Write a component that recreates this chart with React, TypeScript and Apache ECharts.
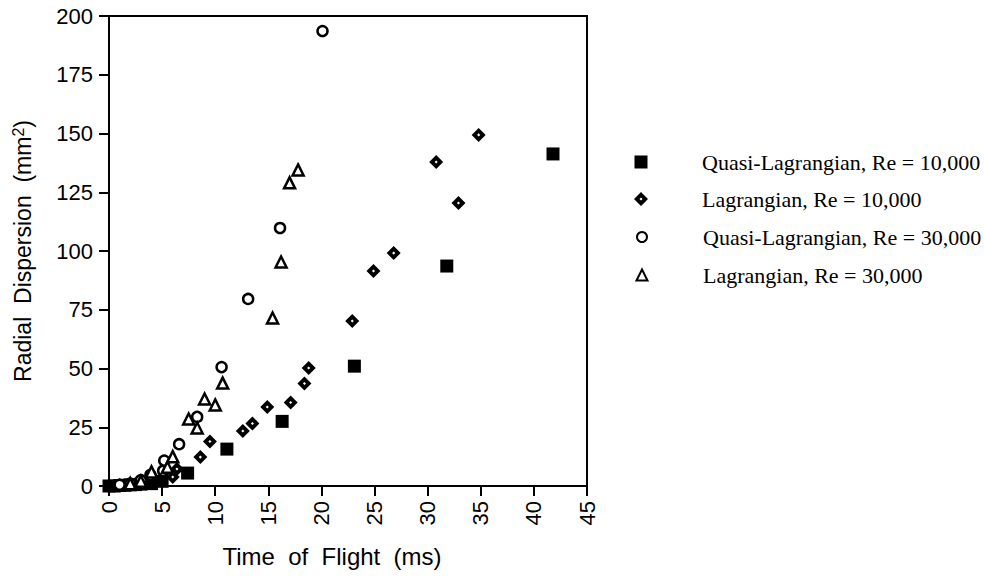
import React, { useEffect, useRef } from "react";
import * as echarts from "echarts";

const seriesNames = [
  "Quasi-Lagrangian, Re = 10,000",
  "Lagrangian, Re = 10,000",
  "Quasi-Lagrangian, Re = 30,000",
  "Lagrangian, Re = 30,000",
];

const quasiLag10k: number[][] = [
  [0, 0], [0.5, 0], [1, 0.2], [1.5, 0.3], [2, 0.5], [2.5, 0.6], [3, 0.8], [4, 1],
  [5, 2], [7.4, 5.5], [11.1, 15.7], [16.3, 27.5], [23.1, 51], [31.8, 93.6], [41.8, 141.3],
];
const lag10k: number[][] = [
  [1, 0.3], [2, 0.8], [3, 1.5], [4, 1.8], [6, 3.8], [6.4, 7.2], [8.6, 12.3], [9.5, 18.9],
  [12.6, 23.4], [13.5, 26.6], [14.9, 33.6], [17.1, 35.5], [18.4, 43.6], [18.8, 50.2],
  [22.9, 70.2], [24.9, 91.5], [26.8, 99.1], [30.8, 137.9], [32.9, 120.4], [34.8, 149.4],
];
const quasiLag30k: number[][] = [
  [1, 0.5], [2, 1], [3, 2.5], [3.9, 4.7], [5.1, 6.5], [5.2, 10.8], [6.6, 17.8],
  [8.3, 29.4], [10.6, 50.6], [13.1, 79.6], [16.1, 109.8], [20.1, 193.6],
];
const lag30k: number[][] = [
  [2, 1], [3, 2], [4, 6], [5.5, 8], [6, 12.5], [7.5, 28.5], [8.3, 24.7], [9, 37],
  [10, 34.5], [10.7, 43.8], [15.4, 71.5], [16.2, 95.3], [17, 129], [17.8, 134.5],
];

const xTicks = { min: 0, max: 45, interval: 5 };
const yTicks = { min: 0, max: 200, interval: 25 };

const diamondPath =
  "path://M0,-10 L10,0 L0,10 L-10,0 Z M0,-2.2 L-2.2,0 L0,2.2 L2.2,0 Z";

export default function App() {
  const ref = useRef<HTMLDivElement>(null);
  useEffect(() => {
    if (!ref.current) return;
    const chart = echarts.init(ref.current, undefined, { renderer: "svg" });
    const axisFont = "'Liberation Sans', Arial, sans-serif";
    const legendFont = "'Liberation Serif', 'Times New Roman', serif";
    const legendTops = [146, 183, 221, 259];
    const legendIcon = [13, 14, 10, 11];
    const iconCenterX = 636;
    const textX = 697;
    chart.setOption({
      animation: false,
      backgroundColor: "#fff",
      grid: {
        left: 109, top: 16, right: 397, bottom: 91,
        show: true, borderColor: "#000", borderWidth: 2, backgroundColor: "transparent",
      },
      xAxis: {
        type: "value", ...xTicks,
        name: "Time  of  Flight  (ms)", nameLocation: "middle", nameGap: 58,
        nameTextStyle: { fontFamily: axisFont, fontSize: 24, color: "#000", padding: [0, 32, 0, 0] },
        axisLine: { lineStyle: { color: "#000", width: 2 } },
        axisTick: { show: true, length: 10, lineStyle: { color: "#000", width: 2 } },
        axisLabel: { rotate: 90, fontFamily: axisFont, fontSize: 22, color: "#000", margin: 15 },
        splitLine: { show: false },
      },
      yAxis: {
        type: "value", ...yTicks,
        name: "Radial  Dispersion  (mm{sup|2})", nameLocation: "middle", nameGap: 73,
        nameTextStyle: {
          fontFamily: axisFont, fontSize: 23, color: "#000",
          rich: { sup: { fontFamily: axisFont, fontSize: 16, verticalAlign: "top", padding: [0, 0, 10, 0] } },
        },
        axisLine: { lineStyle: { color: "#000", width: 2 } },
        axisTick: { show: true, length: 10, lineStyle: { color: "#000", width: 2 } },
        axisLabel: { fontFamily: axisFont, fontSize: 22, color: "#000", margin: 16 },
        splitLine: { show: false },
      },
      legend: seriesNames.map((n, i) => {
        const s = legendIcon[i];
        const left = iconCenterX - s / 2;
        const pad = textX - left - s - 5;
        return {
          data: [n],
          orient: "vertical",
          left,
          top: legendTops[i],
          itemWidth: s,
          itemHeight: s,
          textStyle: { fontFamily: legendFont, fontSize: 22, color: "#000", padding: [0, 0, 0, pad] },
        };
      }),
      series: [
        {
          name: seriesNames[0], type: "scatter", data: quasiLag10k,
          symbol: "rect", symbolSize: 13,
          itemStyle: { color: "#000", opacity: 1 },
        },
        {
          name: seriesNames[1], type: "scatter", data: lag10k,
          symbol: diamondPath, symbolSize: 14,
          itemStyle: { color: "#000", opacity: 1 },
        },
        {
          name: seriesNames[2], type: "scatter", data: quasiLag30k,
          symbol: "circle", symbolSize: 10,
          itemStyle: { color: "#fff", borderColor: "#000", borderWidth: 2.5, opacity: 1 },
        },
        {
          name: seriesNames[3], type: "scatter", data: lag30k,
          symbol: "triangle", symbolSize: 11,
          itemStyle: { color: "#fff", borderColor: "#000", borderWidth: 2.5, opacity: 1 },
        },
      ],
    });
    return () => chart.dispose();
  }, []);
  return (
    <div
      ref={ref}
      style={{ position: "fixed", left: 0, top: 0, width: 984, height: 577, background: "#fff" }}
    />
  );
}
